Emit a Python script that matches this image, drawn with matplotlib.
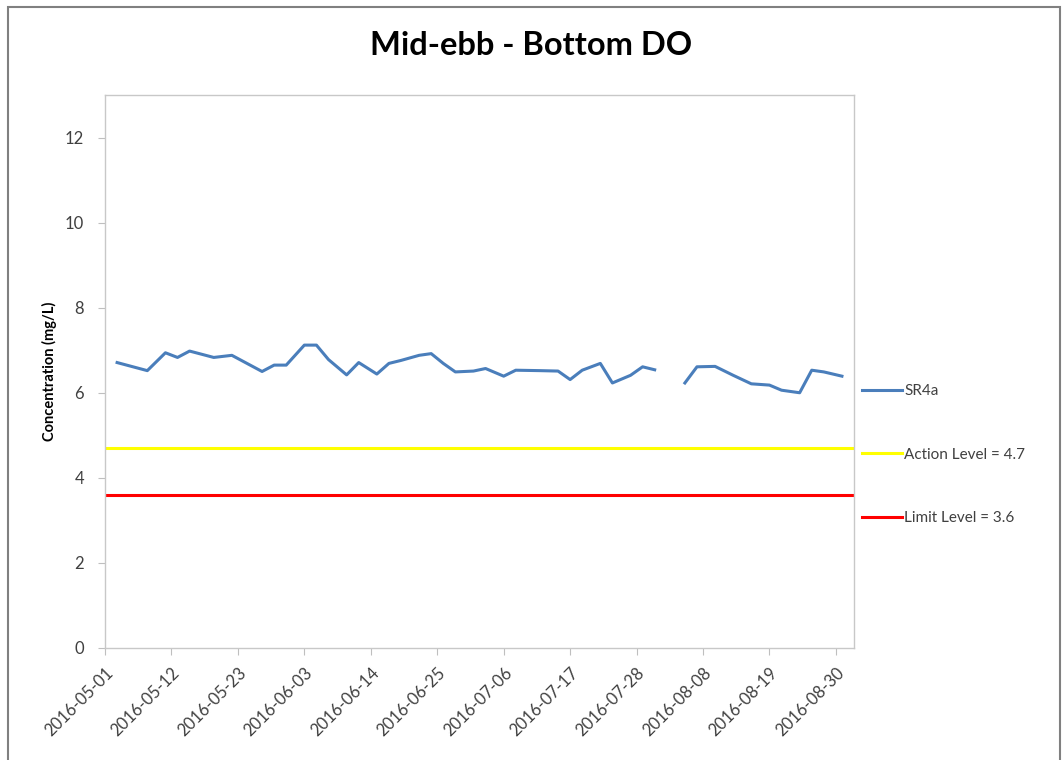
import matplotlib
matplotlib.use("Agg")
import matplotlib.pyplot as plt
import matplotlib.dates as mdates
from matplotlib.lines import Line2D
from matplotlib.patches import Rectangle
import numpy as np
import pandas as pd

plt.rcParams["font.family"] = ["Lato", "DejaVu Sans"]

# SR4a bottom DO readings (NaN = missing sample, breaks the line)
sample_dates = [
    "2016-05-03", "2016-05-08", "2016-05-11", "2016-05-13", "2016-05-15",
    "2016-05-19", "2016-05-22", "2016-05-27", "2016-05-29", "2016-05-31",
    "2016-06-03", "2016-06-05", "2016-06-07", "2016-06-10", "2016-06-12",
    "2016-06-15", "2016-06-17", "2016-06-19", "2016-06-22", "2016-06-24",
    "2016-06-26", "2016-06-28", "2016-07-01", "2016-07-03", "2016-07-06",
    "2016-07-08", "2016-07-12", "2016-07-15", "2016-07-17", "2016-07-19",
    "2016-07-22", "2016-07-24", "2016-07-27", "2016-07-29", "2016-07-31",
    "2016-08-02", "2016-08-05", "2016-08-07", "2016-08-10", "2016-08-13",
    "2016-08-16", "2016-08-19", "2016-08-21", "2016-08-24", "2016-08-26",
    "2016-08-28", "2016-08-31",
]
sr4a_values = [
    6.71, 6.52, 6.94, 6.83, 6.98,
    6.83, 6.88, 6.50, 6.65, 6.65,
    7.12, 7.12, 6.78, 6.42, 6.71,
    6.44, 6.69, 6.76, 6.88, 6.92,
    6.69, 6.49, 6.51, 6.57, 6.39,
    6.53, 6.52, 6.51, 6.31, 6.53,
    6.69, 6.23, 6.41, 6.61, 6.54,
    np.nan, 6.23, 6.61, 6.62, 6.41,
    6.21, 6.18, 6.06, 6.00, 6.53,
    6.49, 6.39,
]

action_level = 4.7
limit_level = 3.6

tick_start = "2016-05-01"
tick_end = "2016-08-30"
axis_end = "2016-09-02"

dates = pd.to_datetime(sample_dates)
tick_dates = pd.date_range(tick_start, tick_end, freq="11D")

fig = plt.figure(figsize=(10.63, 7.6), dpi=100)
ax = fig.add_axes([0.0988, 0.1474, 0.7046, 0.7276])

blue = "#4A7EBB"
yellow = "#FFFF00"
red = "#FF0000"

ax.plot(dates, sr4a_values, color=blue, lw=2.2, solid_joinstyle="round")
ax.axhline(action_level, color=yellow, lw=2.2)
ax.axhline(limit_level, color=red, lw=2.2)

ax.set_xlim(pd.Timestamp(tick_start), pd.Timestamp(axis_end))
ax.set_ylim(0, 13)
ax.set_yticks(range(0, 13, 2))
ax.set_xticks(tick_dates)
ax.xaxis.set_major_formatter(mdates.DateFormatter("%Y-%m-%d"))

ax.tick_params(axis="both", colors="#BFBFBF", labelcolor="#404040",
               labelsize=12, length=5, direction="out")
ax.tick_params(axis="y", pad=10)
ax.tick_params(axis="x", pad=7)

for label in ax.get_xticklabels():
    label.set_rotation(45)
    label.set_ha("right")
    label.set_rotation_mode("anchor")

for spine in ax.spines.values():
    spine.set_color("#C8C8C8")
    spine.set_linewidth(1.0)

ax.set_ylabel("Concentration (mg/L)", fontsize=10.5, fontweight="bold",
              color="#000000", labelpad=6)

fig.text(0.5, 0.940, "Mid-ebb - Bottom DO", ha="center", va="center",
         fontsize=23.5, fontweight="bold", color="#000000")

handles = [
    Line2D([], [], color=blue, lw=2.2),
    Line2D([], [], color=yellow, lw=2.2),
    Line2D([], [], color=red, lw=2.2),
]
labels = ["SR4a", "Action Level = 4.7", "Limit Level = 3.6"]
fig.legend(handles, labels, loc="upper left", bbox_to_anchor=(0.798, 0.513),
           frameon=False, fontsize=11, labelcolor="#404040",
           handlelength=2.6, handletextpad=0.15, labelspacing=3.25)

# chart area border
fig.patches.append(Rectangle((8 / 1063, -0.1), 1052 / 1063, 1.1 - 7 / 760,
                             transform=fig.transFigure, fill=False,
                             edgecolor="#808080", lw=1.5))

fig.savefig("out.png", dpi=100)
